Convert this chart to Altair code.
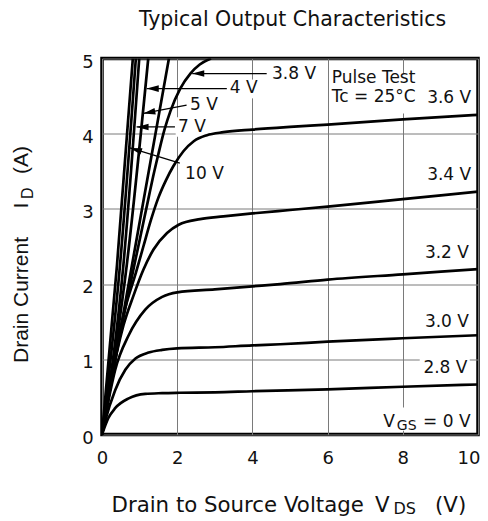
import math
import altair as alt
import pandas as pd

# ---------------- data ----------------
# V_DS (V) / I_D (A) per gate voltage curve
v_28 = [0, 0.17, 0.35, 0.71, 1.15, 1.6, 2.06, 3.0, 4.0, 6.0, 8.0, 10.0]
i_28 = [0, 0.22, 0.35, 0.48, 0.54, 0.55, 0.555, 0.56, 0.575, 0.60, 0.635, 0.665]

v_30 = [0, 0.09, 0.35, 0.62, 0.89, 1.24, 1.6, 2.0, 3.0, 4.0, 4.74, 6.0, 8.0, 10.0]
i_30 = [0, 0.19, 0.59, 0.86, 1.01, 1.09, 1.125, 1.145, 1.16, 1.185, 1.20, 1.235, 1.28, 1.32]

v_32 = [0, 0.15, 0.35, 0.71, 1.15, 1.6, 2.0, 3.0, 4.0, 4.74, 6.0, 8.0, 10.0]
i_32 = [0, 0.40, 0.86, 1.32, 1.66, 1.83, 1.89, 1.93, 1.97, 2.0, 2.06, 2.13, 2.2]

v_34 = [0, 0.2, 0.57, 0.84, 1.1, 1.37, 1.73, 2.04, 2.61, 3.23, 4.0, 5.0, 6.0, 8.0, 10.0]
i_34 = [0, 0.6, 1.45, 1.85, 2.19, 2.46, 2.68, 2.79, 2.865, 2.90, 2.94, 2.985, 3.03, 3.13, 3.23]

v_36 = [0, 0.3, 0.6, 0.9, 1.1, 1.3, 1.5, 1.7, 1.9, 2.17, 2.44, 2.79, 3.23, 4.0, 5.0, 6.0, 8.0, 10.0]
i_36 = [0, 0.95, 1.65, 2.15, 2.5, 2.85, 3.15, 3.38, 3.57, 3.77, 3.90, 3.98, 4.02, 4.055, 4.09, 4.12, 4.19, 4.25]

v_38 = [0, 0.45, 0.88, 1.1, 1.24, 1.36, 1.5, 1.66, 1.82, 2.08, 2.35, 2.6, 2.9]
i_38 = [0, 1.25, 2.3, 2.82, 3.15, 3.43, 3.73, 4.05, 4.3, 4.6, 4.8, 4.92, 5.0]

v_39 = [0, 0.80, 1.78]
i_39 = [0, 2.26, 5.0]
v_4 = [0, 0.66, 1.23]
i_4 = [0, 2.26, 5.0]
v_5 = [0, 0.57, 0.99]
i_5 = [0, 2.26, 5.0]
v_7 = [0, 0.48, 0.90]
i_7 = [0, 2.26, 5.0]
v_10 = [0, 0.40, 0.82]
i_10 = [0, 2.26, 5.0]

curve_names = ["2.8", "3.0", "3.2", "3.4", "3.6", "3.8", "3.9", "4", "5", "7", "10"]
curve_v = [v_28, v_30, v_32, v_34, v_36, v_38, v_39, v_4, v_5, v_7, v_10]
curve_i = [i_28, i_30, i_32, i_34, i_36, i_38, i_39, i_4, i_5, i_7, i_10]

# arrow annotations (label end -> tip)
arrow_labels = ["3.8 V", "4 V", "5 V", "7 V", "10 V"]
arrow_v0 = [4.38, 3.32, 2.25, 1.94, 2.07]
arrow_i0 = [4.80, 4.60, 4.38, 4.09, 3.61]
arrow_v1 = [2.40, 1.19, 1.10, 0.92, 0.745]
arrow_i1 = [4.80, 4.60, 4.27, 4.09, 3.81]
arrow_lab_v = [4.52, 3.40, 2.34, 2.02, 2.21]
arrow_lab_i = [4.80, 4.61, 4.38, 4.09, 3.46]

# right-hand labels
right_labels = ["3.6 V", "3.4 V", "3.2 V", "3.0 V", "2.8 V"]
right_v = [9.82, 9.82, 9.76, 9.76, 9.72]
right_i = [4.47, 3.45, 2.41, 1.50, 0.88]

note_labels = ["Pulse Test", "Tc = 25°C"]
note_v = [6.11, 6.11]
note_i = [4.74, 4.49]

vgs_text = ["V", "GS", "= 0 V"]
vgs_v = [7.48, 7.84, 8.54]
vgs_i = [0.10, 0.055, 0.10]
vgs_fs = [17, 14, 17]

# white label backgrounds that interrupt the grid
bg_v0 = [6.05, 3.38, 1.96, 8.45, 7.42]
bg_v1 = [8.50, 4.20, 2.83, 9.78, 9.85]
bg_i0 = [4.27, 4.47, 3.96, 0.76, 0.05]
bg_i1 = [4.80, 4.72, 4.22, 1.03, 0.36]

x_ticks = [0, 2, 4, 6, 8, 10]
y_ticks = [0, 1, 2, 3, 4, 5]

# ---------------- tables ----------------
W, H = 376, 376
PXV, PXI = W / 10.0, H / 5.0

rows = []
for n, vs, is_ in zip(curve_names, curve_v, curve_i):
    for k, (v, i) in enumerate(zip(vs, is_)):
        rows.append({"curve": n, "V": v, "I": i, "k": k})
curves = pd.DataFrame(rows)

ar = pd.DataFrame({"label": arrow_labels, "V0": arrow_v0, "I0": arrow_i0,
                   "V1": arrow_v1, "I1": arrow_i1})
ar["ang"] = [
    (math.degrees(math.atan2((b - a) * PXV, (d - c) * PXI)) + 360) % 360
    for a, b, c, d in zip(ar.V0, ar.V1, ar.I0, ar.I1)
]
right_df = pd.DataFrame({"t": right_labels, "V": right_v, "I": right_i})
left_df = pd.DataFrame({"t": arrow_labels + note_labels,
                        "V": arrow_lab_v + note_v,
                        "I": arrow_lab_i + note_i})
vgs_df = pd.DataFrame({"t": vgs_text, "V": vgs_v, "I": vgs_i, "fs": vgs_fs})
bg_df = pd.DataFrame({"V0": bg_v0, "V1": bg_v1, "I0": bg_i0, "I1": bg_i1})

xs = alt.Scale(domain=[0, 10], nice=False, zero=False)
ys = alt.Scale(domain=[0, 5], nice=False, zero=False)
xa = alt.Axis(
    values=x_ticks, title=None, labelPadding=14.5, labelFlush=False,
    labelAlign=alt.condition("datum.value == 10", alt.value("right"), alt.value("center")),
    labelOffset=alt.condition("datum.value == 10", alt.value(2), alt.value(0)),
)
ya = alt.Axis(values=y_ticks, title=None, labelPadding=8.7, labelOffset=3.5, labelFlush=False)
TXT = "#111111"
HF = "DejaVu Sans"


def X(f):
    return alt.X(f, scale=xs, axis=xa)


def Y(f):
    return alt.Y(f, scale=ys, axis=ya)


bg = alt.Chart(bg_df).mark_rect(color="white").encode(
    x=X("V0:Q"), x2="V1:Q", y=Y("I0:Q"), y2="I1:Q")

lines = alt.Chart(curves).mark_line(
    color="black", strokeWidth=2.7, interpolate="monotone", clip=True
).encode(x=X("V:Q"), y=Y("I:Q"), detail="curve:N", order="k:Q")

rules = alt.Chart(ar).mark_rule(color="black", strokeWidth=1.3).encode(
    x=X("V0:Q"), x2="V1:Q", y=Y("I0:Q"), y2="I1:Q")

heads = alt.Chart(ar).mark_point(
    shape="M0,0L-0.55,2L0.55,2Z", filled=True, color="black", size=144, opacity=1, strokeWidth=0
).encode(x=X("V1:Q"), y=Y("I1:Q"), angle=alt.Angle("ang:Q", scale=None))

right_txt = alt.Chart(right_df).mark_text(
    align="right", baseline="middle", font=HF, fontSize=17, color=TXT
).encode(x=X("V:Q"), y=Y("I:Q"), text="t:N")

left_txt = alt.Chart(left_df).mark_text(
    align="left", baseline="middle", font=HF, fontSize=17, color=TXT
).encode(x=X("V:Q"), y=Y("I:Q"), text="t:N")

vgs_txt = alt.Chart(vgs_df).mark_text(
    align="left", baseline="alphabetic", font=HF, color=TXT
).encode(x=X("V:Q"), y=Y("I:Q"), text="t:N", size=alt.Size("fs:Q", scale=None))

# titles (pixel positions relative to plot origin)
title_df = pd.DataFrame({"t": ["Typical Output Characteristics"], "px": [190.5], "py": [-32.5]})
title_txt = alt.Chart(title_df).mark_text(
    align="center", baseline="alphabetic", font=HF, fontSize=20.5, color=TXT
).encode(x=alt.X("px:Q", scale=None), y=alt.Y("py:Q", scale=None), text="t:N")

xt_df = pd.DataFrame({"t": ["Drain to Source Voltage", "V", "DS", "(V)"],
                      "px": [9.5, 273, 291.5, 333],
                      "py": [453.5, 453.5, 455.5, 453.5],
                      "fs": [21.3, 21.3, 16, 21.3]})
xt_txt = alt.Chart(xt_df).mark_text(
    align="left", baseline="alphabetic", font=HF, color=TXT
).encode(x=alt.X("px:Q", scale=None), y=alt.Y("py:Q", scale=None),
         text="t:N", size=alt.Size("fs:Q", scale=None))

yt_df = pd.DataFrame({"t": ["Drain Current", "I", "D", "(A)"],
                      "px": [-73.7, -73.7, -69.0, -73.7],
                      "py": [304.5, 150.0, 140.5, 115.5],
                      "fs": [21, 21, 16, 21]})
yt_txt = alt.Chart(yt_df).mark_text(
    align="left", baseline="alphabetic", font="Liberation Sans", angle=270, color=TXT
).encode(x=alt.X("px:Q", scale=None), y=alt.Y("py:Q", scale=None),
         text="t:N", size=alt.Size("fs:Q", scale=None))

chart = alt.layer(
    bg, lines, rules, heads, right_txt, left_txt, vgs_txt, title_txt, xt_txt, yt_txt
).properties(
    width=W, height=H,
    autosize=alt.AutoSizeParams(type="none"),
    padding={"left": 94, "top": 50.5, "right": 2, "bottom": 82.5},
).configure_view(
    stroke="black", strokeWidth=3.5
).configure_axis(
    domain=False, ticks=False, tickSize=0, grid=True,
    gridColor="#7a7a7a", gridWidth=1,
    labelFont=HF, labelFontSize=18, labelColor=TXT,
)

chart.save("out.html", embed_options={"renderer": "svg", "actions": False})
